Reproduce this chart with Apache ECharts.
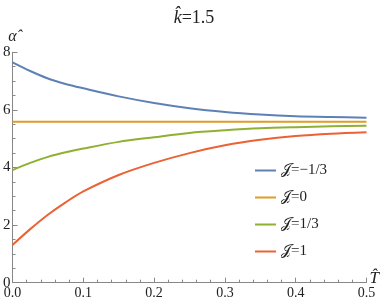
<!DOCTYPE html>
<html><head><meta charset="utf-8">
<script src="https://cdn.jsdelivr.net/npm/echarts@6/dist/echarts.min.js"></script>
<style>html,body{margin:0;padding:0;background:#fff}#c{width:388px;height:306px}</style>
</head><body><div id="c"></div>
<script>
const T = [0, 0.025, 0.05, 0.075, 0.1, 0.15, 0.2, 0.25, 0.3, 0.35, 0.4, 0.45, 0.5];
const jNeg = [7.65, 7.35, 7.09, 6.90, 6.75, 6.47, 6.24, 6.06, 5.93, 5.84, 5.78, 5.75, 5.73];
const jZero = [5.59, 5.59, 5.59, 5.59, 5.59, 5.59, 5.59, 5.59, 5.59, 5.59, 5.59, 5.59, 5.59];
const jThird = [3.91, 4.16, 4.37, 4.53, 4.66, 4.89, 5.05, 5.20, 5.29, 5.36, 5.40, 5.43, 5.45];
const jOne = [1.31, 1.86, 2.36, 2.79, 3.17, 3.74, 4.16, 4.50, 4.77, 4.96, 5.09, 5.17, 5.22];
const names = ['𝒥=−1/3', '𝒥=0', '𝒥=1/3', '𝒥=1'];
const colors = ['#5E81B5', '#E19C24', '#8FB032', '#EB6235'];
const xTicks = ['0.0','0.1','0.2','0.3','0.4','0.5'];
const serif = 'Liberation Serif';
const pairs = arr => T.map((t, i) => [t, arr[i]]);
const all = [jNeg, jZero, jThird, jOne];
const chart = echarts.init(document.getElementById('c'));
chart.setOption({
  animation: false,
  textStyle: { fontFamily: serif },
  title: {
    text: '{i|k̂}{n|=1.5}', left: 'center', top: 4,
    textStyle: { fontWeight: 'normal', fontFamily: serif, rich: {
      i: { fontFamily: serif, fontStyle: 'italic', fontWeight: 'normal', fontSize: 18, color: '#222' },
      n: { fontFamily: serif, fontWeight: 'normal', fontSize: 18, color: '#222' } } }
  },
  grid: { left: 12, right: 21.5, top: 52.3, bottom: 23.3 },
  legend: {
    orient: 'vertical', left: 250, top: 158, itemGap: 12,
    itemWidth: 21, itemHeight: 2, icon: 'rect',
    textStyle: { fontFamily: serif, fontSize: 15, color: '#222' },
    data: names
  },
  xAxis: {
    type: 'value', min: 0, max: 0.5, interval: 0.1,
    name: 'T̂', nameLocation: 'end', nameGap: 3,
    nameTextStyle: { fontFamily: serif, fontStyle: 'italic', fontSize: 17, color: '#222', verticalAlign: 'bottom', padding: [0, 0, -4, 0] },
    axisLine: { lineStyle: { color: '#888' } },
    axisTick: { inside: true, length: 5, lineStyle: { color: '#888' } },
    minorTick: { show: true, splitNumber: 5, length: 3, lineStyle: { color: '#888' } },
    splitLine: { show: false },
    axisLabel: { fontFamily: serif, fontSize: 14, color: '#222', margin: 4, formatter: v => xTicks[Math.round(v * 10)] }
  },
  yAxis: {
    type: 'value', min: 0, max: 8, interval: 2,
    name: 'α̂', nameLocation: 'end', nameGap: 8,
    nameTextStyle: { fontFamily: serif, fontStyle: 'italic', fontSize: 16, color: '#222', align: 'center' },
    axisLine: { show: true, lineStyle: { color: '#888' } },
    axisTick: { show: true, inside: true, length: 5, lineStyle: { color: '#888' } },
    minorTick: { show: true, splitNumber: 4, length: 3, lineStyle: { color: '#888' } },
    splitLine: { show: false },
    axisLabel: { fontFamily: serif, fontSize: 15, color: '#222', margin: 2 }
  },
  series: all.map((arr, k) => ({
    name: names[k], type: 'line', smooth: 0.3, showSymbol: false,
    data: pairs(arr), color: colors[k], lineStyle: { width: 2, color: colors[k] }
  }))
});
</script></body></html>
